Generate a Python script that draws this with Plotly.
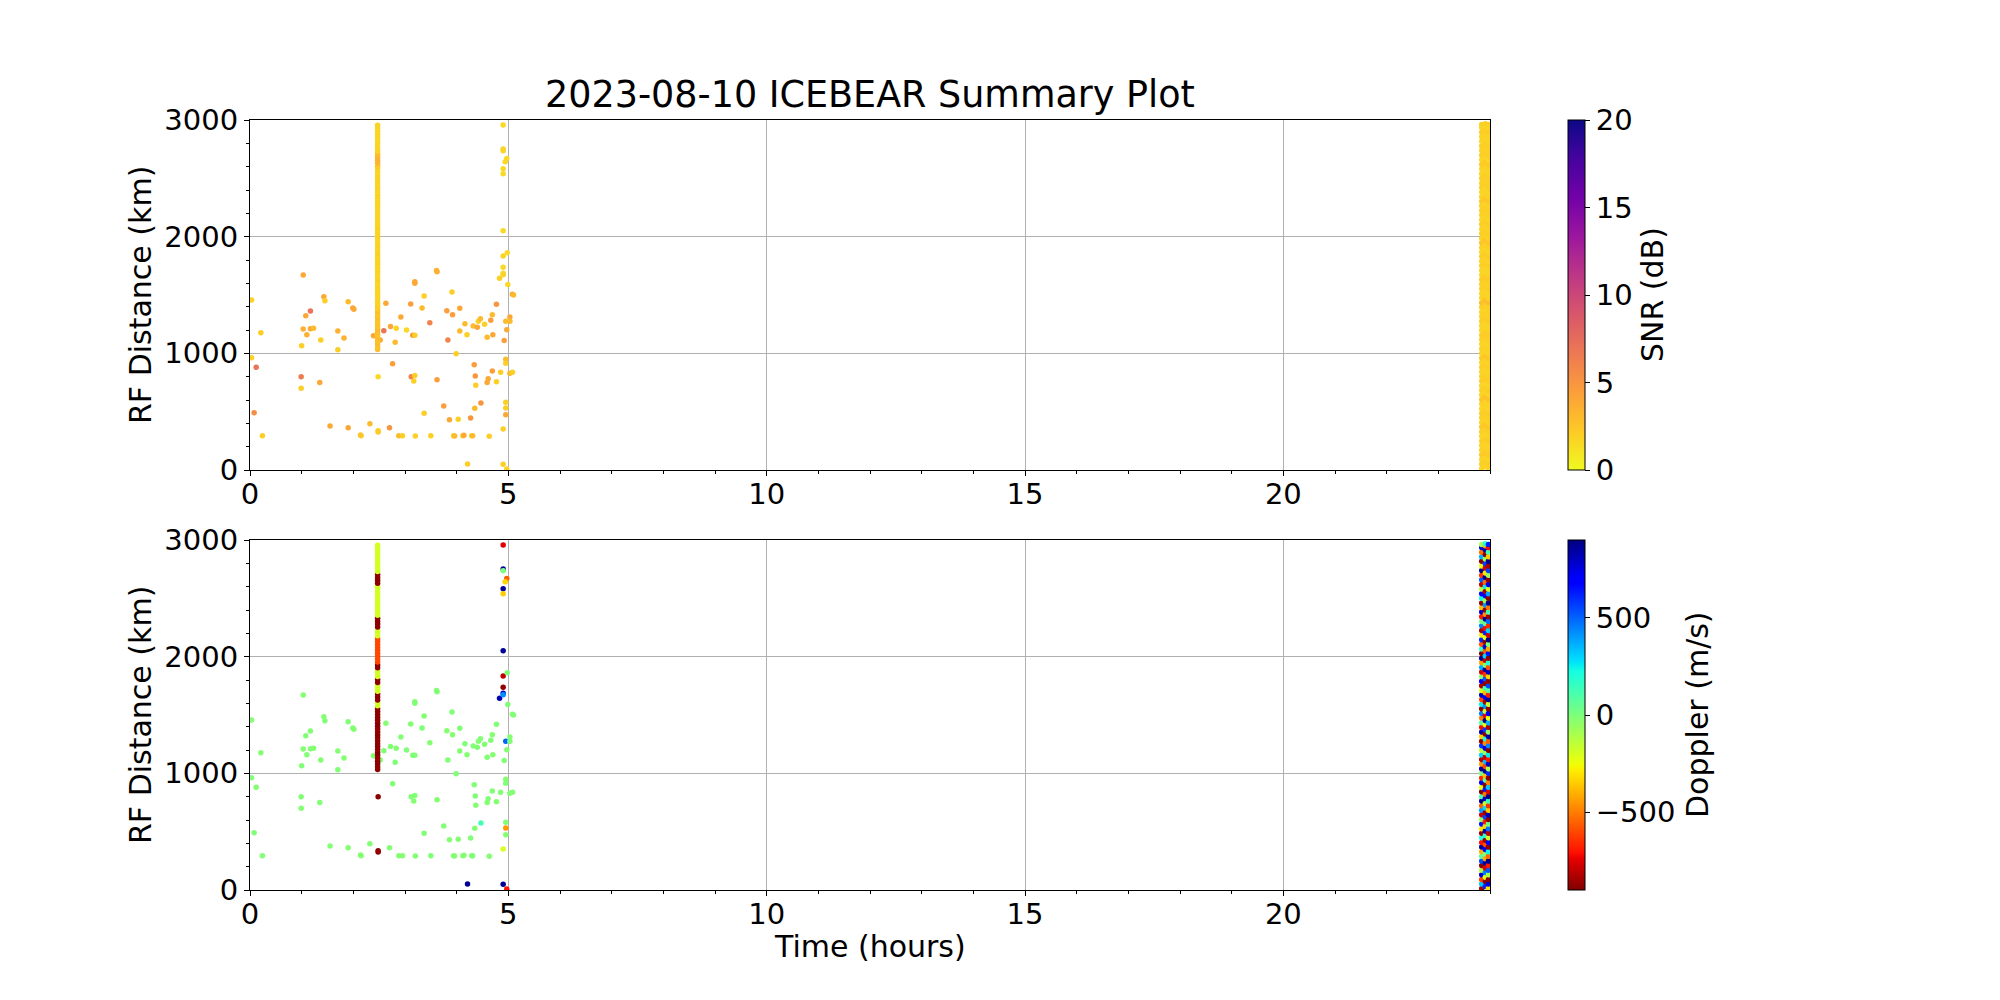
import numpy as np
import plotly.graph_objects as go
import plotly.colors as pc

# ---------------- data ----------------
pt_hours = [0.03, 0.03, 0.12, 0.08, 0.21, 0.24, 1.03, 0.99, 0.99, 1.00,
            1.03, 1.08, 1.10, 1.17, 1.17, 1.23, 1.37, 1.35, 1.43, 1.45,
            1.55, 1.70, 1.70, 1.82, 1.90, 1.90, 1.99, 2.01, 2.15, 2.14,
            2.32, 2.39, 2.48, 2.48, 2.48, 2.52, 2.59, 2.63, 2.70, 2.72,
            2.76, 2.83, 2.81, 2.88, 2.92, 2.95, 3.03, 3.11, 3.12, 3.15,
            3.19, 3.17, 3.19, 3.19, 3.19, 3.20, 3.33, 3.37, 3.37, 3.48,
            3.50, 3.61, 3.62, 3.62, 3.75, 3.81, 3.83, 3.86, 3.91, 3.92,
            3.94, 3.96, 3.99, 4.03, 4.06, 4.06, 4.12, 4.14, 4.16, 4.20,
            4.21, 4.27, 4.29, 4.31, 4.32, 4.34, 4.35, 4.36, 4.37, 4.40,
            4.42, 4.46, 4.47, 4.54, 4.59, 4.59, 4.61, 4.63, 4.66, 4.69,
            4.69, 4.70, 4.77, 4.77, 4.83, 4.85, 4.90, 4.90, 4.90, 4.90,
            4.90, 4.97, 4.94, 4.90, 4.90, 4.98, 4.90, 4.90, 4.90, 4.99,
            5.08, 5.10, 4.95, 5.03, 5.03, 4.97, 4.92, 4.95, 4.95, 5.03,
            5.08, 4.95, 4.95, 4.95, 4.90, 4.90, 4.97]
pt_range = [1457, 963, 880, 491, 1177, 294, 1671, 800, 700, 1066,
            1208, 1323, 1160, 1363, 1211, 1214, 1114, 749, 1486, 1451,
            377, 1191, 1031, 1131, 1443, 363, 1389, 1377, 294, 300,
            397, 1151, 800, 337, 326, 1114, 1194, 1429, 363, 1231,
            911, 1214, 1094, 294, 1311, 294, 1200, 1423, 800, 1154,
            1154, 763, 811, 1614, 1600, 291, 1389, 1491, 486, 1263,
            294, 1709, 1700, 774, 549, 1366, 1114, 431, 1526, 1331,
            294, 291, 997, 434, 1386, 1191, 294, 297, 1254, 1160,
            51, 446, 294, 294, 1234, 903, 529, 806, 726, 1223,
            1274, 1297, 574, 1249, 1137, 749, 783, 289, 1283, 1331,
            849, 1160, 1420, 757, 1643, 837, 2957, 2751, 2737, 2583,
            2540, 2671, 2643, 2051, 1834, 1863, 1737, 1686, 1674, 1591,
            1506, 1500, 1274, 1311, 1274, 1203, 1111, 949, 914, 829,
            837, 580, 531, 474, 351, 49, 9]
pt_snr = [1.8, 1.8, 7.0, 5.5, 2.0, 2.0, 4.0, 6.5, 2.0, 2.0,
          3.5, 4.0, 3.5, 7.0, 4.0, 3.0, 2.0, 4.0, 4.0, 2.0,
          4.0, 3.5, 2.0, 3.5, 3.0, 4.0, 4.0, 4.0, 2.0, 2.5,
          3.0, 4.0, 1.5, 2.0, 2.2, 4.0, 7.0, 4.0, 5.0, 4.0,
          4.5, 1.8, 3.0, 3.0, 4.0, 2.0, 1.5, 4.5, 6.0, 5.0,
          2.0, 2.0, 2.0, 4.0, 4.0, 2.0, 3.0, 2.0, 2.0, 6.0,
          2.0, 3.5, 3.5, 4.5, 4.5, 4.5, 6.0, 4.0, 2.0, 4.5,
          2.0, 3.0, 2.0, 2.0, 4.0, 3.0, 2.0, 4.0, 3.0, 2.0,
          2.0, 5.0, 2.0, 3.0, 3.0, 4.5, 3.0, 5.0, 2.0, 4.0,
          2.0, 3.0, 5.0, 2.0, 3.0, 4.0, 4.0, 2.0, 4.5, 3.0,
          4.5, 4.0, 5.0, 2.0, 2.0, 2.0, 1.5, 1.8, 1.8, 1.5,
          1.5, 1.5, 1.5, 1.5, 1.8, 1.5, 1.5, 1.5, 1.8, 1.5,
          4.0, 3.0, 3.0, 4.0, 3.0, 4.0, 4.5, 3.0, 2.0, 3.0,
          2.0, 2.0, 2.0, 4.0, 2.0, 2.0, 2.0]
pt_doppler = [-20, -10, -20, -10, -20, -10, -20, -10, -20, -10,
              -20, -10, -10, -20, -10, -20, -20, -10, -20, -10,
              -10, -20, -10, -20, -10, -20, -10, -20, -10, -20,
              -10, -20, -880, -880, -870, -20, -10, -20, -10, -20,
              -10, -20, -10, -20, -10, -20, -10, -20, -10, -20,
              -10, -20, -10, -20, -10, -20, -10, -20, -10, -20,
              -10, -20, -10, -20, -10, -20, -10, -20, -10, -20,
              -10, -20, -10, -20, -10, -20, -10, -20, -10, -20,
              870, -10, -20, -10, -20, -10, -20, -10, -20, -10,
              -20, -10, 120, -20, -10, -20, -10, -20, -10, -20,
              -10, -20, -10, -20, 820, -10, -750, 860, 0, 860,
              -350, -560, -330, 860, -800, 0, -870, 800, 420, -10,
              -20, -10, 500, -20, -10, -20, -10, -20, -10, -20,
              -10, -10, -450, -20, -200, 870, -700]

# dense column near 2.47 h
col_a_hour = 2.47
col_a_range = [1032, 1055, 1081, 1104, 1130, 1156, 1179, 1205, 1231, 1254,
               1280, 1306, 1329, 1355, 1381, 1404, 1430, 1456, 1479, 1505,
               1531, 1554, 1580, 1606, 1629, 1655, 1681, 1704, 1730, 1756,
               1779, 1805, 1831, 1854, 1880, 1906, 1929, 1955, 1981, 2004,
               2030, 2056, 2079, 2105, 2131, 2154, 2180, 2206, 2229, 2255,
               2281, 2304, 2330, 2356, 2379, 2405, 2431, 2454, 2480, 2506,
               2529, 2555, 2581, 2604, 2630, 2656, 2679, 2705, 2731, 2754,
               2780, 2806, 2829, 2855, 2881, 2904, 2930, 2955]
col_a_snr = [2.8, 2.6, 3.0, 2.7, 2.9, 2.6, 2.8, 3.0, 2.5, 2.7,
             2.6, 2.8, 2.4, 2.9, 2.2, 2.0, 1.8, 1.9, 1.7, 1.8,
             1.7, 1.9, 1.8, 1.7, 2.0, 1.8, 1.7, 1.9, 1.8, 1.7,
             1.9, 1.8, 1.7, 2.0, 1.8, 1.7, 1.9, 1.8, 1.7, 1.9,
             1.8, 1.7, 2.0, 1.8, 1.9, 1.7, 1.8, 1.9, 1.7, 1.8,
             1.9, 1.7, 1.8, 2.0, 1.7, 1.8, 1.9, 1.7, 1.8, 1.9,
             1.8, 1.7, 1.9, 2.2, 3.2, 3.4, 3.3, 3.0, 1.9, 1.8,
             1.7, 1.8, 1.6, 1.7, 1.8, 1.6, 1.7, 1.8]
col_a_doppler = [-880, -870, -890, -880, -860, -880, -890, -870, -880, -880,
                 -880, -870, -890, -880, -860, -880, -890, -870, -880, -880,
                 -880, -880, -190, -190, -880, -880, -880, -190, -190, -190,
                 -880, -880, -190, -190, -190, -880, -880, -600, -600, -600,
                 -600, -600, -600, -600, -600, -600, -190, -190, -190, -880,
                 -880, -880, -880, -190, -190, -190, -190, -190, -190, -190,
                 -190, -190, -190, -190, -880, -880, -880, -880, -190, -190,
                 -190, -190, -190, -190, -190, -190, -190, -190]

# dense column at the end of the day (three time bins)
col_b_hours = [23.84, 23.91, 23.97]
col_b_range_1 = [12, 52, 91, 131, 170, 210, 249, 289, 328, 368,
                 407, 447, 486, 526, 565, 605, 644, 684, 723, 763,
                 802, 842, 881, 921, 960, 1000, 1039, 1079, 1118, 1158,
                 1197, 1237, 1276, 1316, 1355, 1395, 1434, 1474, 1513, 1553,
                 1592, 1632, 1671, 1711, 1750, 1790, 1829, 1869, 1908, 1948,
                 1987, 2027, 2066, 2106, 2145, 2185, 2224, 2264, 2303, 2343,
                 2382, 2422, 2461, 2501, 2540, 2580, 2619, 2659, 2698, 2738,
                 2777, 2817, 2856, 2896, 2935, 2962]
col_b_range_2 = [30, 72, 110, 151, 189, 231, 268, 310, 347, 389,
                 426, 468, 505, 547, 584, 626, 663, 705, 742, 784,
                 821, 863, 900, 942, 979, 1021, 1058, 1100, 1137, 1179,
                 1216, 1258, 1295, 1337, 1374, 1416, 1453, 1495, 1532, 1574,
                 1611, 1653, 1690, 1732, 1769, 1811, 1848, 1890, 1927, 1969,
                 2006, 2048, 2085, 2127, 2164, 2206, 2243, 2285, 2322, 2364,
                 2401, 2443, 2480, 2522, 2559, 2601, 2638, 2680, 2717, 2759,
                 2796, 2838, 2875, 2917, 2950, 2968]
col_b_ranges = [col_b_range_1, col_b_range_2, col_b_range_1]
col_b_snr = [1.8, 2.0, 1.7, 2.2, 1.9, 1.8, 2.1, 1.7, 2.0, 2.4,
             1.8, 1.9, 2.1, 1.7, 1.8, 2.6, 1.8, 2.0, 1.7, 2.1,
             1.9, 1.7, 2.0, 1.8, 2.3, 1.8, 1.9, 1.7, 2.0, 2.1,
             1.8, 1.7, 2.1, 1.9, 1.8, 2.0, 2.8, 1.8, 1.7, 2.0,
             1.9, 2.2, 1.8, 1.7, 2.0, 1.8, 2.1, 1.7, 1.9, 2.5,
             1.8, 2.0, 1.8, 2.1, 1.7, 1.9, 2.0, 1.8, 2.3, 1.8,
             1.7, 2.0, 1.9, 2.1, 1.8, 1.8, 2.2, 1.7, 2.0, 1.9,
             2.0, 1.8, 1.8, 2.1, 1.7, 1.9]
col_b_doppler_1 = [-850, 320, -620, 780, -120, -880, 540, 60, -400, 870,
                   -700, 210, -860, -300, 650, -50, -780, 400, -550, 880,
                   130, -890, -240, 720, -660, 20, 860, -450, -820, 300,
                   -150, 590, -870, -350, 840, -720, 90, -500, 460, -880,
                   250, -610, 820, -200, -840, 700, -30, -760, 380, -430,
                   870, -890, 160, -580, 610, -280, -850, 450, 10, -700,
                   790, -380, -860, 230, 680, -120, -810, 520, -640, 880,
                   -260, -880, 360, -520, 760, -90]
col_b_doppler_2 = [610, -880, -210, 450, -760, 860, -420, -30, 720, -590,
                   -860, 180, 830, -330, -700, 560, -870, 280, -130, 810,
                   -520, 640, -890, 90, -360, 870, -610, 350, -800, -60,
                   750, -470, 220, -880, 580, -250, 880, -740, -170, 420,
                   -850, 690, -390, 130, -880, 510, -640, 860, -20, -810,
                   300, -560, 770, -890, -230, 620, -720, 40, 850, -460,
                   -880, 410, -100, 730, -840, 260, -540, 880, -300, -770,
                   570, -60, -880, 840, -410, 190]
col_b_doppler_3 = [-300, 760, -880, -90, 520, -690, 880, -540, 240, -870,
                   690, -180, -800, 470, 30, -880, 820, -350, -640, 150,
                   880, -760, 330, -480, -880, 600, -110, 790, -700, 260,
                   -890, 440, -560, 850, -40, -830, 370, -250, 710, -880,
                   -160, 860, -680, 80, 540, -870, -330, 800, -590, 200,
                   -880, 650, -420, -20, 880, -780, 310, -660, 480, -860,
                   140, -510, 870, -890, 390, -200, 740, -880, -70, 560,
                   -840, 880, -350, 110, -720, 620]
col_b_dopplers = [col_b_doppler_1, col_b_doppler_2, col_b_doppler_3]

x_ticks = [0, 5, 10, 15, 20]
y_ticks = [0, 1000, 2000, 3000]
snr_ticks = [0, 5, 10, 15, 20]
dop_ticks = [-500, 0, 500]

# ---------------- colour scales ----------------
def jet(t):
    r = np.interp(t, [0, 0.35, 0.66, 0.89, 1], [0, 0, 1, 1, 0.5])
    g = np.interp(t, [0, 0.125, 0.375, 0.64, 0.91, 1], [0, 0, 1, 1, 0, 0])
    b = np.interp(t, [0, 0.11, 0.34, 0.65, 1], [0.5, 1, 1, 0, 0])
    return "rgb(%d,%d,%d)" % (round(r * 255), round(g * 255), round(b * 255))

bps = sorted(set([0, 0.11, 0.125, 0.34, 0.35, 0.375, 0.64, 0.65, 0.66, 0.89, 0.91, 1]))
jet_r_scale = sorted([[1 - t, jet(t)] for t in bps], key=lambda p: p[0])
plasma_r_scale = pc.sequential.Plasma_r

FONT = "DejaVu Sans"
MS = 5.5

fig = go.Figure()

def add_panel(xa, ya, cax, pt_c, cola_c, colb_cs):
    fig.add_trace(go.Scatter(x=pt_hours, y=pt_range, mode="markers", xaxis=xa, yaxis=ya,
                             marker=dict(size=MS, color=pt_c, coloraxis=cax, line=dict(width=0)),
                             showlegend=False))
    fig.add_trace(go.Scatter(x=[col_a_hour] * len(col_a_range), y=col_a_range, mode="markers",
                             xaxis=xa, yaxis=ya,
                             marker=dict(size=MS, color=cola_c, coloraxis=cax, line=dict(width=0)),
                             showlegend=False))
    for h, rr, c in zip(col_b_hours, col_b_ranges, colb_cs):
        fig.add_trace(go.Scatter(x=[h] * len(rr), y=rr, mode="markers",
                                 xaxis=xa, yaxis=ya,
                                 marker=dict(size=5.5, color=c, coloraxis=cax, line=dict(width=0)),
                                 showlegend=False))

add_panel("x", "y", "coloraxis", pt_snr, col_a_snr, [col_b_snr] * 3)
add_panel("x2", "y2", "coloraxis2", pt_doppler, col_a_doppler, col_b_dopplers)

tickfont = dict(family=FONT, size=29, color="black")
axis_common = dict(showline=True, linecolor="black", linewidth=1.1, mirror=True,
                   ticks="outside", ticklen=5, tickwidth=1.1, tickcolor="black",
                   showgrid=True, gridcolor="#b0b0b0", gridwidth=1.1,
                   zeroline=False, tickfont=tickfont, layer="above traces")

xa = dict(axis_common, range=[0, 24], tickvals=x_ticks, ticklabelstandoff=-7,
          minor=dict(dtick=1, tick0=0, ticklen=3, tickwidth=1, tickcolor="black",
                     ticks="outside", showgrid=False))
ya = dict(axis_common, range=[0, 3000], tickvals=y_ticks,
          minor=dict(dtick=200, tick0=0, ticklen=3, tickwidth=1, tickcolor="black",
                     ticks="outside", showgrid=False))

L, R, T, B = 250, 510, 120, 110
PW, PH = 2000 - L - R, 1000 - T - B
top_dom = [(890 - 470) / PH, 1.0]
bot_dom = [0.0, (890 - 540) / PH]
cb_x = (1568 - L) / PW

cb_common = dict(thickness=17, x=cb_x, xanchor="left", xpad=0, ypad=0,
                 len=350 / PH, lenmode="fraction", yanchor="middle",
                 outlinewidth=1, outlinecolor="black",
                 ticks="outside", ticklen=5, tickwidth=1.1, tickcolor="black",
                 tickfont=tickfont)

fig.update_layout(
    width=2000, height=1000,
    margin=dict(l=L, r=R, t=T, b=B, autoexpand=False),
    paper_bgcolor="white", plot_bgcolor="white",
    font=dict(family=FONT, color="black"),
    xaxis=dict(xa, domain=[0, 1], anchor="y"),
    yaxis=dict(ya, domain=top_dom, anchor="x"),
    xaxis2=dict(xa, domain=[0, 1], anchor="y2"),
    yaxis2=dict(ya, domain=bot_dom, anchor="x2"),
    coloraxis=dict(colorscale=plasma_r_scale, cmin=0, cmax=20,
                   colorbar=dict(cb_common, y=(top_dom[0] + top_dom[1]) / 2,
                                 tickvals=snr_ticks)),
    coloraxis2=dict(colorscale=jet_r_scale, cmin=-900, cmax=900,
                    colorbar=dict(cb_common, y=(bot_dom[0] + bot_dom[1]) / 2,
                                  tickvals=dop_ticks, ticktext=["\u2212500", "0", "500"])),
    showlegend=False,
)

lab = dict(family=FONT, size=30, color="black")
fig.add_annotation(text="2023-08-10 ICEBEAR Summary Plot", x=0.5, y=1, xref="paper", yref="paper",
                   xanchor="center", yanchor="bottom", yshift=2, showarrow=False,
                   font=dict(family=FONT, size=36.5, color="black"))
fig.add_annotation(text="RF Distance (km)", x=(140 - L) / PW, y=(top_dom[0] + top_dom[1]) / 2,
                   xref="paper", yref="paper", xanchor="center", yanchor="middle",
                   textangle=-90, showarrow=False, font=lab)
fig.add_annotation(text="RF Distance (km)", x=(140 - L) / PW, y=(bot_dom[0] + bot_dom[1]) / 2,
                   xref="paper", yref="paper", xanchor="center", yanchor="middle",
                   textangle=-90, showarrow=False, font=lab)
fig.add_annotation(text="Time (hours)", x=0.5, y=(890 - 946) / PH, xref="paper", yref="paper",
                   xanchor="center", yanchor="middle", showarrow=False, font=lab)
fig.add_annotation(text="SNR (dB)", x=(1652 - L) / PW, y=(top_dom[0] + top_dom[1]) / 2,
                   xref="paper", yref="paper", xanchor="center", yanchor="middle",
                   textangle=-90, showarrow=False, font=lab)
fig.add_annotation(text="Doppler (m/s)", x=(1697 - L) / PW, y=(bot_dom[0] + bot_dom[1]) / 2,
                   xref="paper", yref="paper", xanchor="center", yanchor="middle",
                   textangle=-90, showarrow=False, font=lab)

fig.write_html("out.html", config={"displayModeBar": False},
               post_script="document.body.style.margin='0';")
